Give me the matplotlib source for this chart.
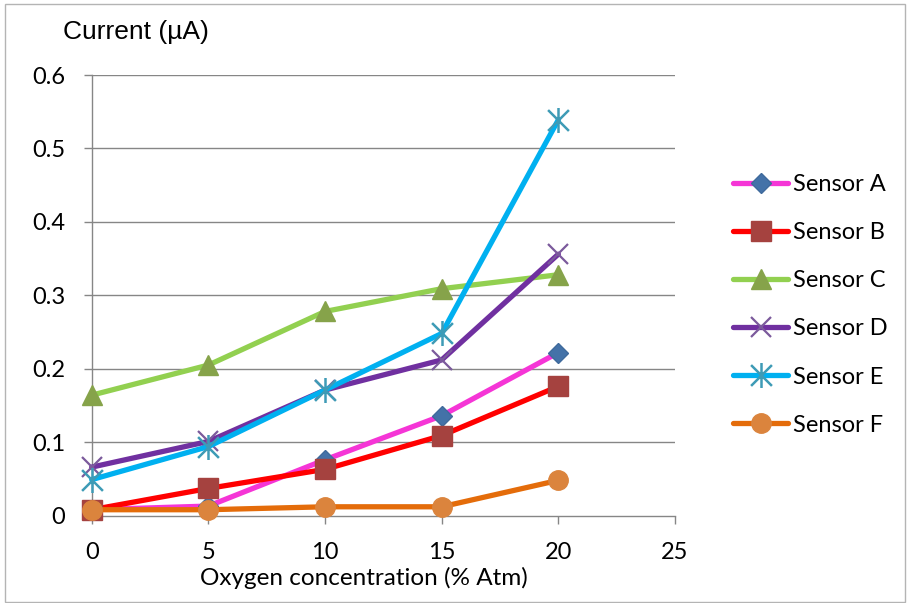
import matplotlib
matplotlib.use("Agg")
import matplotlib.pyplot as plt
from matplotlib.path import Path
from matplotlib.patches import Rectangle

# Oxygen concentration (% Atm) and sensor currents (µA)
oxygen = [0, 5, 10, 15, 20]
sensor_a = [0.008, 0.013, 0.076, 0.136, 0.222]
sensor_b = [0.008, 0.037, 0.063, 0.109, 0.176]
sensor_c = [0.164, 0.205, 0.278, 0.309, 0.328]
sensor_d = [0.066, 0.101, 0.171, 0.212, 0.356]
sensor_e = [0.049, 0.094, 0.171, 0.248, 0.539]
sensor_f = [0.008, 0.008, 0.012, 0.012, 0.048]
labels = ["Sensor A", "Sensor B", "Sensor C", "Sensor D", "Sensor E", "Sensor F"]
x_ticks = [0, 5, 10, 15, 20, 25]
y_ticks = [0, 0.1, 0.2, 0.3, 0.4, 0.5, 0.6]
y_tick_labels = ["0", "0.1", "0.2", "0.3", "0.4", "0.5", "0.6"]

# Asterisk marker: an "x" plus a vertical stroke
star = Path(
    [(-0.5, -0.5), (0.5, 0.5), (-0.5, 0.5), (0.5, -0.5), (0, -0.6), (0, 0.6)],
    [Path.MOVETO, Path.LINETO, Path.MOVETO, Path.LINETO, Path.MOVETO, Path.LINETO],
)

styles = [
    dict(color="#F535D6", marker="D", ms=10, mfc="#4472A8", mec="#3F6A9C", mew=1),
    dict(color="#FF0000", marker="s", ms=14, mfc="#A5423F", mec="#A5423F", mew=1),
    dict(color="#92D050", marker="^", ms=15, mfc="#86A34A", mec="#86A34A", mew=1),
    dict(color="#7030A0", marker="x", ms=14, mfc="none", mec="#7B5A9C", mew=1.6),
    dict(color="#00B0F0", marker=star, ms=18, mfc="none", mec="#3E9BB6", mew=1.8),
    dict(color="#E46C0A", marker="o", ms=14, mfc="#DB843D", mec="#DB843D", mew=1),
]
series = [sensor_a, sensor_b, sensor_c, sensor_d, sensor_e, sensor_f]

W, H = 907, 603
fig = plt.figure(figsize=(W / 100, H / 100), dpi=100)
ax = fig.add_axes([91.7 / W, 1 - 515.6 / H, (675 - 91.7) / W, (515.6 - 75) / H])

grid_c = "#868686"
for yv in y_ticks[1:]:
    ax.axhline(yv, color=grid_c, lw=1.0, zorder=1)

for vals, st, lab in zip(series, styles, labels):
    ax.plot(oxygen, vals, lw=3.8, solid_capstyle="round", label=lab, zorder=3,
            clip_on=False, **st)

ax.set_xlim(0, 25)
ax.set_ylim(0, 0.6)
ax.set_xticks(x_ticks)
ax.set_yticks(y_ticks)
ax.set_yticklabels(y_tick_labels)
for s in ("top", "right"):
    ax.spines[s].set_visible(False)
for s in ("left", "bottom"):
    ax.spines[s].set_color(grid_c)
    ax.spines[s].set_linewidth(1.0)
    ax.spines[s].set_zorder(2)
ax.tick_params(axis="both", direction="out", length=6, width=1.0, color=grid_c,
               labelsize=17, labelcolor="black")
ax.tick_params(axis="x", pad=13)
ax.tick_params(axis="y", pad=13)
for t in ax.get_xticklabels() + ax.get_yticklabels():
    t.set_family("Lato")

fig.text(63 / W, 1 - 32 / H, "Current (µA)", fontsize=19, family="Liberation Sans",
         ha="left", va="center")
fig.text(364 / W, 1 - 578 / H, "Oxygen concentration (% Atm)", fontsize=17.5,
         family="Lato", ha="center", va="center")

leg = ax.legend(loc="upper left", bbox_to_anchor=(733 / W, 1 - 174 / H),
                bbox_transform=fig.transFigure, frameon=False,
                prop={"family": "Lato", "size": 17}, handlelength=2.35,
                handletextpad=0.2, labelspacing=1.15, borderpad=0, borderaxespad=0)

# Chart border
fig.add_artist(Rectangle((5 / W, 1 / H), 900 / W, 598 / H, transform=fig.transFigure,
                         fill=False, edgecolor="#B4B4B4", lw=1.0))

fig.savefig("out.png", dpi=100)
